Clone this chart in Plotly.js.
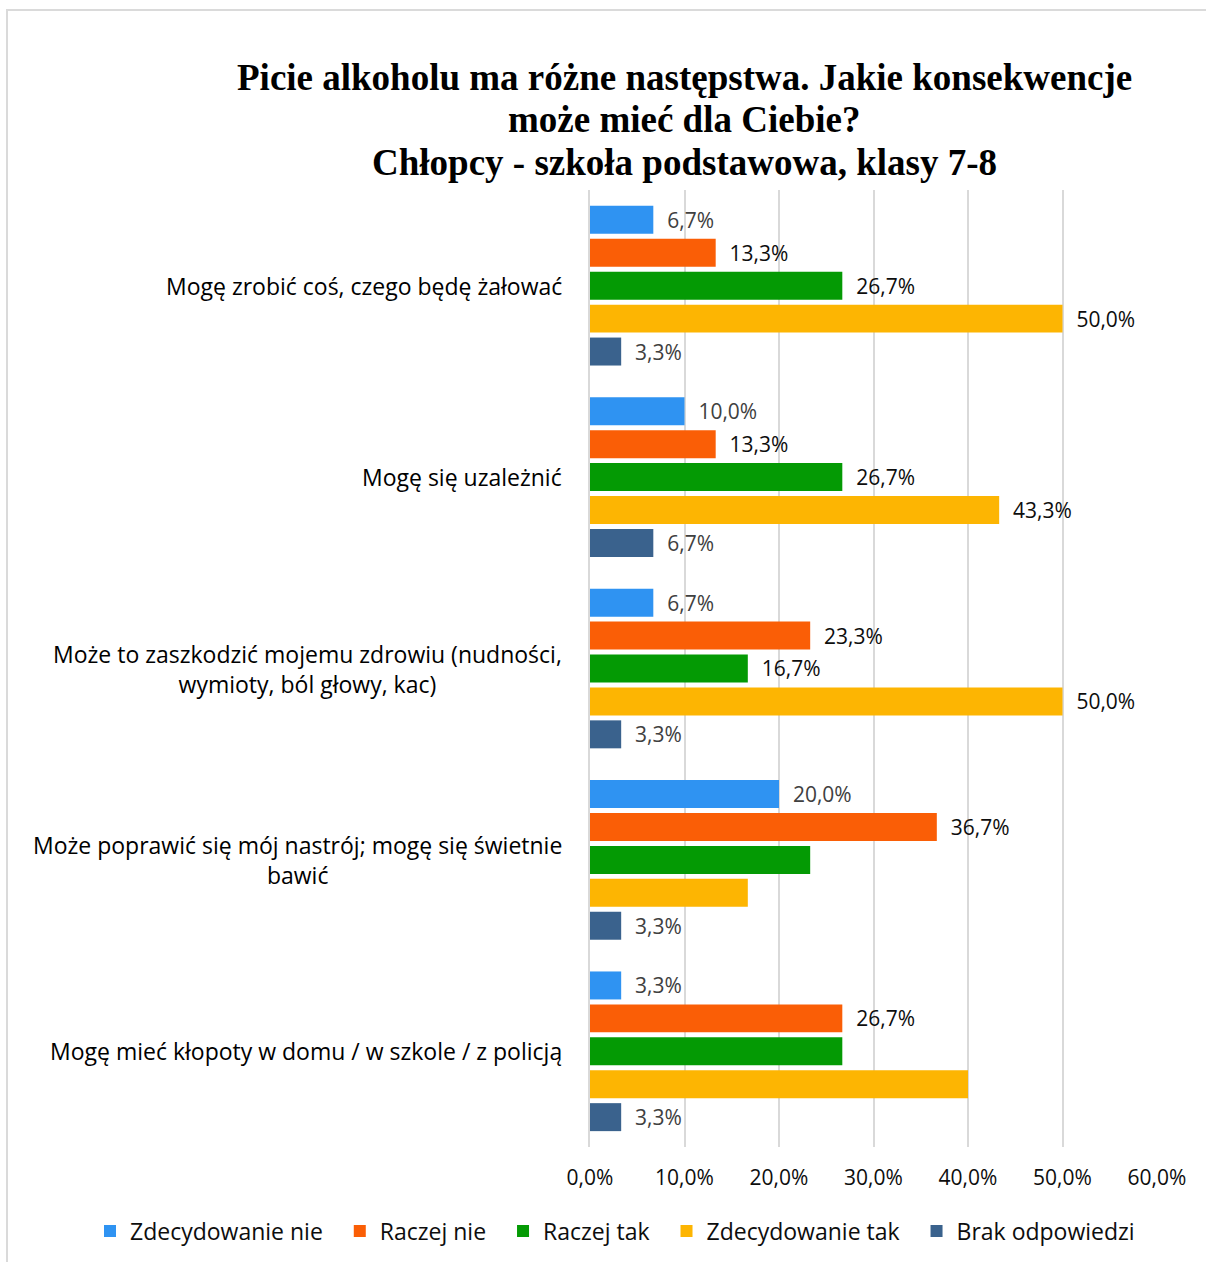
<!DOCTYPE html>
<html>
<head>
<meta charset="utf-8">
<script src="https://cdn.plot.ly/plotly-3.0.1.min.js"></script>
<style>
  html, body { margin: 0; padding: 0; background: #fff; }
  #wrap { position: relative; width: 1206px; height: 1262px; }
  #chart { position: absolute; left: 0; top: 0; width: 1206px; height: 1262px; }
  #frame { position: absolute; left: 6px; top: 9px; width: 1200px; height: 1253px;
           border-top: 2px solid #dadada; border-left: 2px solid #dadada;
           box-sizing: border-box; pointer-events: none; }
</style>
</head>
<body>
<div id="wrap"><div id="chart"></div><div id="frame"></div></div>
<script>
const titleLines = [
  "Picie alkoholu ma różne następstwa. Jakie konsekwencje",
  "może mieć dla Ciebie?",
  "Chłopcy - szkoła podstawowa, klasy 7-8"
];
const categories = [
  "Mogę zrobić coś, czego będę żałować",
  "Mogę się uzależnić",
  "Może to zaszkodzić mojemu zdrowiu (nudności,<br>wymioty, ból głowy, kac)",
  "Może poprawić się mój nastrój; mogę się świetnie<br>bawić",
  "Mogę mieć kłopoty w domu / w szkole / z policją"
];
const seriesNames = ["Zdecydowanie nie", "Raczej nie", "Raczej tak", "Zdecydowanie tak", "Brak odpowiedzi"];
const zdecydowanieNie = [6.7, 10.0, 6.7, 20.0, 3.3];
const raczejNie       = [13.3, 13.3, 23.3, 36.7, 26.7];
const raczejTak       = [26.7, 26.7, 16.7, 23.3, 26.7];
const zdecydowanieTak = [50.0, 43.3, 50.0, 16.7, 40.0];
const brakOdpowiedzi  = [3.3, 6.7, 3.3, 3.3, 3.3];
// whether the data label is shown in the original (per series, per category)
const labelShown = [
  [true, true, true, true, true],
  [true, true, true, true, true],
  [true, true, true, false, false],
  [true, true, true, false, false],
  [true, true, true, true, true]
];
const xTickValues = [0, 10, 20, 30, 40, 50, 60];
const xTickLabels = ["0,0%", "10,0%", "20,0%", "30,0%", "40,0%", "50,0%", "60,0%"];

const values = [zdecydowanieNie, raczejNie, raczejTak, zdecydowanieTak, brakOdpowiedzi];
const colors = ["#2f93f2", "#fa5e06", "#049a04", "#fdb502", "#3a628d"];
const labelColors = ["#404040", "#0d0d0d", "#0d0d0d", "#0d0d0d", "#404040"];
const FONT = "Open Sans, sans-serif";

const fmt = v => v.toFixed(1).replace(".", ",") + "%";

const traces = values.map((vals, s) => ({
  type: "bar",
  orientation: "h",
  name: seriesNames[s] + "\u00a0\u00a0",
  y: categories,
  x: vals,
  text: vals.map((v, i) => labelShown[s][i] ? "\u00a0\u00a0" + fmt(v) : ""),
  textposition: "outside",
  cliponaxis: false,
  textfont: { family: FONT, size: 21, color: labelColors[s] },
  marker: { color: colors[s], line: { width: 0 } },
  hoverinfo: "x+name"
}));

// plot area: top 190, bottom 1147 (height 957), left 590, width 567
const PLOT_TOP = 190, PLOT_H = 957, PLOT_L = 590, PLOT_W = 567;
const py = pix => (PLOT_TOP + PLOT_H - pix) / PLOT_H;
const px = pix => (pix - PLOT_L) / PLOT_W;

const titleY = [77, 120, 162];
const titleAnn = titleLines.map((t, i) => ({
  xref: "paper", yref: "paper", x: px(684), y: py(titleY[i]),
  xanchor: "center", yanchor: "middle", showarrow: false,
  text: "<b>" + t + "</b>",
  font: { family: "Liberation Serif, serif", size: 37, color: "#000" }
}));

const catAnn = categories.map(c => ({
  xref: "paper", yref: "y", x: 0, y: c, xshift: -26,
  xanchor: "right", yanchor: "middle", align: "center",
  text: c, showarrow: false,
  font: { family: FONT, size: 23, color: "#000" }
}));

const layout = {
  width: 1206, height: 1262,
  paper_bgcolor: "#fff", plot_bgcolor: "#fff",
  margin: { l: 590, r: 49, t: 190, b: 115, autoexpand: false },
  separators: ", ",
  barmode: "group",
  bargap: 0.14,
  bargroupgap: 0.15,
  xaxis: {
    range: [0, 60],
    tickvals: xTickValues, ticktext: xTickLabels,
    showgrid: true, gridcolor: "#d9d9d9", gridwidth: 2,
    zeroline: false, showline: false, ticks: "",
    ticklabelstandoff: 16,
    tickfont: { family: FONT, size: 21, color: "#0d0d0d" },
    fixedrange: true
  },
  yaxis: {
    type: "category",
    autorange: "reversed",
    showticklabels: false, showgrid: false, zeroline: false,
    showline: true, linecolor: "#d9d9d9", linewidth: 2, ticks: "",
    fixedrange: true
  },
  showlegend: true,
  legend: {
    orientation: "h", xref: "paper", x: px(90), xanchor: "left",
    yref: "paper", y: py(1231), yanchor: "middle",
    font: { family: FONT, size: 23, color: "#0d0d0d" },
    itemclick: false, itemdoubleclick: false,
    tracegroupgap: 0, itemwidth: 30
  },
  annotations: titleAnn.concat(catAnn)
};

Plotly.newPlot("chart", traces, layout, { displayModeBar: false, staticPlot: true });
</script>
</body>
</html>
